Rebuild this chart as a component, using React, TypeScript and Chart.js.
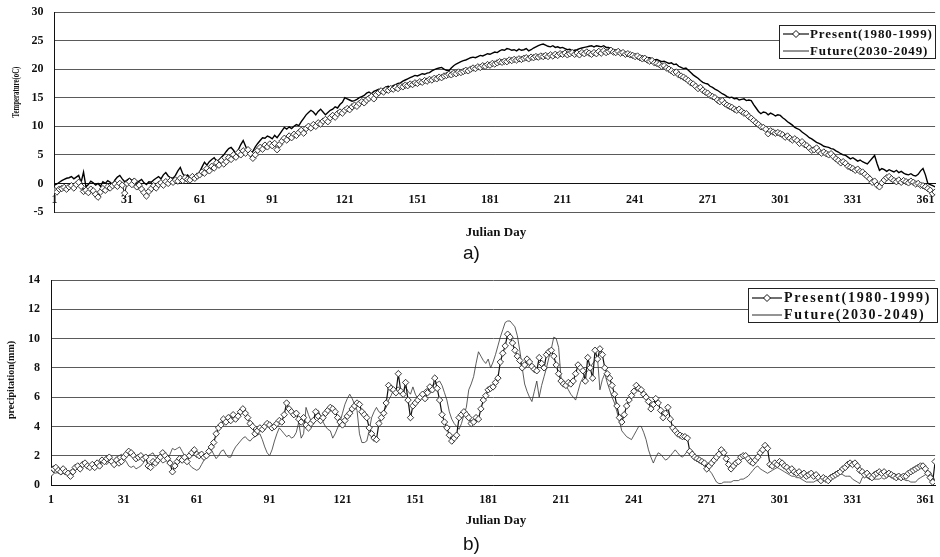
import React, { useEffect, useRef } from 'react';
import { Chart, registerables } from 'chart.js';

Chart.register(...registerables);

// ---------- DATA ----------
const xTickValues = [1, 31, 61, 91, 121, 151, 181, 211, 241, 271, 301, 331, 361];
const tempYTicks = [-5, 0, 5, 10, 15, 20, 25, 30];
const precYTicks = [0, 2, 4, 6, 8, 10, 12, 14];
const seriesLabels = ['Present(1980-1999)', 'Future(2030-2049)'];

// a) Temperature (oC), Julian day 1..365
const tempPresent = [
  -1.2, -1.5, -1.0, -0.9, -0.7, -1.0, -0.6, -0.4, -0.8, -0.2,
  0.2, -0.5, -1.4, -1.2, -1.6, -1.0, -1.3, -1.9, -2.4, -1.5,
  -0.9, -1.2, -0.6, -0.8, -0.4, -0.1, -0.5, 0.0, -0.3, -1.7,
  0.0, 0.3, -0.2, 0.4, -0.6, -0.3, -1.0, -1.6, -2.2, -1.4,
  -0.9, -0.4, -0.8, -0.2, 0.1, -0.3, 0.3, 0.0, 0.5, 0.2,
  0.6, 0.4, 0.9, 0.5, 1.0, 0.7, 0.6, 1.2, 0.9, 1.3,
  1.5, 2.0, 1.8, 2.6, 2.2, 3.0, 2.7, 3.6, 3.2, 4.0,
  3.4, 3.8, 4.5, 4.2, 5.0, 4.6, 5.4, 5.0, 5.7, 5.3,
  5.9, 5.2, 4.4, 5.0, 5.8, 6.3, 6.0, 6.7, 6.4, 6.9,
  6.6, 7.0, 5.9, 6.8, 7.4, 7.9, 7.6, 8.3, 8.0, 8.6,
  8.4, 8.9, 9.3, 8.8, 9.6, 10.0, 9.7, 10.3, 10.0, 10.6,
  10.4, 10.9, 11.2, 10.8, 11.5, 11.9, 11.6, 12.2, 12.5, 12.3,
  12.8, 13.1, 12.9, 13.4, 13.7, 13.5, 14.0, 14.3, 14.1, 14.6,
  14.9, 15.2, 14.8, 15.5, 15.9, 16.2, 16.0, 16.4, 16.3, 16.6,
  16.5, 16.8, 16.6, 17.0, 16.9, 17.2, 17.1, 17.4, 17.3, 17.6,
  17.5, 17.8, 17.7, 18.0, 17.9, 18.2, 18.1, 18.4, 18.3, 18.6,
  18.5, 18.8, 18.9, 19.1, 19.0, 19.3, 19.2, 19.5, 19.4, 19.6,
  19.8, 19.7, 20.0, 20.2, 20.1, 20.4, 20.3, 20.6, 20.5, 20.8,
  20.7, 21.0, 20.9, 21.1, 21.3, 21.2, 21.4, 21.3, 21.6, 21.5,
  21.7, 21.6, 21.8, 21.7, 21.9, 22.0, 21.8, 22.1, 22.0, 22.2,
  22.1, 22.3, 22.2, 22.4, 22.2, 22.5, 22.3, 22.6, 22.4, 22.7,
  22.6, 22.8, 22.5, 22.7, 22.9, 22.6, 22.8, 22.5, 22.9, 22.7,
  23.0, 22.8, 22.6, 22.9, 22.7, 23.1, 22.8, 23.2, 22.9, 23.1,
  23.3, 23.0, 22.9, 23.1, 22.8, 22.9, 22.6, 22.7, 22.5, 22.4,
  22.2, 22.3, 22.0, 21.8, 21.9, 21.6, 21.4, 21.5, 21.1, 21.0,
  20.8, 20.5, 20.6, 20.2, 20.0, 19.7, 19.4, 19.5, 19.0, 18.8,
  18.6, 18.3, 18.0, 17.6, 17.4, 17.0, 16.6, 16.8, 16.3, 16.0,
  15.8, 15.4, 15.2, 15.0, 14.6, 14.3, 14.5, 14.0, 13.7, 13.5,
  13.3, 13.0, 12.8, 13.0, 12.6, 12.3, 12.2, 11.7, 11.4, 11.0,
  10.6, 10.3, 9.9, 9.8, 9.5, 8.7, 9.2, 9.0, 8.8, 8.9,
  8.7, 8.5, 8.1, 8.3, 7.9, 7.6, 7.8, 7.5, 7.0, 7.3,
  6.8, 6.6, 6.2, 5.8, 5.9, 6.2, 5.6, 5.3, 5.5, 5.2,
  5.0, 5.2, 4.7, 4.3, 4.0, 3.6, 3.8, 3.5, 3.0, 2.8,
  2.6, 2.3, 2.5, 2.1, 2.0, 1.6, 1.2, 0.8, 0.2, 0.4,
  -0.3, -0.6, 0.1, 0.6, 1.0, 1.2, 0.8, 0.5, 0.3, 0.6,
  0.2, 0.5, 0.3, 0.1, 0.4, 0.2, -0.1, 0.0, -0.3, -0.4,
  -0.6, -0.9, -1.2, -1.8, -1.5,
];

const tempFuture = [
  -0.3, -0.1, 0.2, 0.5, 0.7, 0.9, 1.0, 1.2, 0.8, 1.1,
  1.4, 0.2, 2.0, -0.6, -0.2, 0.4, 0.1, -0.3, 0.0, -0.5,
  0.3, 0.0, 0.5, 0.2, -0.2, 0.6, 1.1, 1.4, 0.8, 0.3,
  0.6, 0.9, 0.5, 0.8, 0.2, 0.4, 0.7, 0.1, -0.2, 0.3,
  0.2, 0.6, 0.9, 1.2, 0.8, 1.5, 1.9, 1.3, 1.0, 0.9,
  1.4, 2.2, 2.8, 1.7, 1.2, 1.5, 1.0, 1.3, 0.8, 1.1,
  2.0, 2.9, 3.7, 3.2, 3.8, 4.2, 4.5, 3.9, 4.1, 4.6,
  5.0, 5.6, 6.1, 6.3, 5.8, 5.2, 5.9, 6.8, 7.5, 6.5,
  5.5, 4.8, 5.6, 6.4, 7.0, 7.5, 8.0, 7.9, 8.3, 8.1,
  7.8, 8.4, 8.0, 8.6, 9.2, 9.8, 9.5, 9.9, 9.6, 10.0,
  10.3, 10.1, 10.8, 11.4, 12.0, 12.4, 12.8, 12.5, 12.0, 12.6,
  13.0, 12.5, 12.0, 12.4, 12.8, 13.0, 13.4, 13.2, 13.8, 14.2,
  15.0, 14.8, 14.6, 14.4, 14.5, 14.7, 15.0, 15.2, 15.4, 15.8,
  16.0, 15.7, 16.1, 16.3, 16.5, 16.4, 16.6, 16.9, 17.0, 16.8,
  17.1, 17.3, 17.5, 17.6, 17.9, 18.1, 18.3, 18.5, 18.7, 18.9,
  18.8, 19.0, 19.2, 19.1, 19.3, 19.4, 19.7, 19.9, 20.1, 20.2,
  20.3, 20.0, 19.8, 19.7, 20.2, 20.6, 20.9, 21.1, 21.3, 21.5,
  21.6, 21.8, 22.0, 22.1, 22.0, 22.2, 22.4, 22.3, 22.5, 22.7,
  22.6, 22.8, 23.0, 22.9, 23.2, 23.4, 23.3, 23.6, 23.5, 23.3,
  23.4, 23.2, 23.5, 23.3, 23.4, 23.6, 23.2, 23.4, 23.7, 23.9,
  24.1, 24.3, 24.4, 24.2, 24.0, 23.9, 24.1, 23.8, 23.9, 23.7,
  23.8, 23.6, 23.4, 23.5, 23.2, 23.3, 23.4, 23.6, 23.7, 23.8,
  23.9, 24.0, 24.1, 23.9, 24.1, 24.0, 23.9, 24.1, 23.8, 23.8,
  23.6, 23.4, 23.3, 23.4, 23.1, 23.0, 22.8, 22.9, 22.7, 22.5,
  22.6, 22.4, 22.2, 22.3, 22.1, 22.0, 22.0, 21.8, 21.6, 21.7,
  21.5, 21.3, 21.4, 21.2, 21.0, 21.1, 20.8, 20.9, 20.5, 20.3,
  20.1, 20.2, 19.8, 19.4, 19.0, 18.7, 18.4, 18.0, 17.7, 17.5,
  17.4, 17.0, 16.8, 16.5, 16.3, 16.0, 15.7, 15.5, 15.2, 15.0,
  15.1, 14.8, 14.9, 14.6, 14.7, 14.8, 14.5, 14.6, 14.5, 13.8,
  13.2, 12.6, 12.2, 12.5, 12.4, 12.0, 12.3, 12.1, 11.8, 12.0,
  11.9, 11.5, 11.2, 10.8, 10.5, 10.2, 9.8, 9.6, 9.4, 9.0,
  8.7, 8.4, 8.0, 7.8, 7.5, 7.2, 7.0, 6.8, 6.5, 6.4,
  6.3, 6.1, 6.0, 5.7, 5.5, 5.2, 5.0, 4.9, 4.6, 4.3,
  4.5, 4.2, 3.9, 4.1, 3.8, 3.6, 3.4, 3.9, 4.4, 4.9,
  3.5, 2.3, 2.6, 2.4, 2.1, 2.4, 2.2, 2.0, 2.3, 1.9,
  2.1, 1.8, 1.6, 1.5, 1.7, 1.4, 1.3, 1.6, 2.2, 2.6,
  1.5, 0.0, -0.2, -0.4, -0.6,
];

// b) Precipitation (mm), Julian day 1..365
const precPresent = [
  0.8, 1.1, 1.2, 1.0, 0.9, 1.1, 0.9, 0.8, 0.6, 0.9,
  1.2, 1.3, 1.1, 1.4, 1.5, 1.3, 1.2, 1.4, 1.2, 1.5,
  1.3, 1.7, 1.6, 1.8, 1.9, 1.6, 1.4, 1.7, 1.5, 1.6,
  1.9, 2.1, 2.3, 2.2, 2.0, 1.8, 1.9, 2.0, 1.8, 1.9,
  1.3, 1.2, 1.6, 1.5, 1.7, 1.9, 2.2, 2.0, 1.8, 1.5,
  0.9, 1.3, 1.6, 1.8, 1.7, 1.9, 1.6, 2.0, 2.2, 2.4,
  2.1, 2.0, 2.1, 1.9, 2.0, 2.3, 2.6, 2.9, 3.5, 3.9,
  4.1, 4.5, 4.3, 4.6, 4.4, 4.8, 4.5, 4.7, 5.0, 5.2,
  4.9, 4.6, 4.2, 4.0, 3.5, 3.7, 3.9, 3.8, 4.0, 4.2,
  4.1, 3.9, 4.0, 4.2, 4.4, 4.3, 4.8, 5.6, 5.2, 5.0,
  4.8, 4.9, 4.5, 4.3, 4.6, 4.1, 3.9, 4.2, 4.4, 5.0,
  4.7, 4.4, 4.6, 4.9, 5.1, 5.3, 5.2, 5.0, 4.6, 4.3,
  4.1, 4.4, 4.7, 4.9, 5.2, 5.4, 5.6, 5.5, 5.0, 4.8,
  4.6, 3.9, 3.5, 3.2, 3.1, 4.2, 4.6, 4.9, 5.6, 6.8,
  6.6, 6.5, 6.3, 7.6, 6.4, 6.2, 7.0, 5.8, 4.6, 5.4,
  5.6, 5.8, 6.0, 6.2, 5.9, 6.3, 6.7, 6.5, 7.3, 6.6,
  5.8, 4.8, 4.3, 3.9, 3.4, 3.0, 3.2, 3.4, 4.6, 4.8,
  5.0, 4.8, 4.6, 4.2, 4.3, 4.6, 4.5, 5.2, 5.8, 6.1,
  6.5, 6.6, 6.7, 7.0, 7.3, 8.4, 9.0, 9.5, 10.3, 10.1,
  9.7, 9.2, 8.8, 8.5, 8.0, 8.2, 8.6, 8.4, 8.1, 7.9,
  7.8, 8.7, 8.3, 8.0, 8.9, 9.1, 9.2, 8.8, 8.2, 7.6,
  7.1, 6.9, 6.8, 7.0, 6.9, 7.1, 7.6, 8.2, 8.0, 7.8,
  7.1, 8.7, 8.0, 7.3, 9.2, 8.6, 9.3, 8.9, 8.0, 7.6,
  7.3, 6.8, 6.2, 5.4, 4.6, 4.3, 4.8, 5.4, 5.8, 6.1,
  6.4, 6.8, 6.6, 6.5, 6.2, 6.0, 5.7, 5.2, 5.5, 5.9,
  5.6, 5.1, 4.6, 4.9, 5.3, 4.5, 3.9, 3.7, 3.5, 3.4,
  3.3, 3.3, 3.2, 2.3, 2.1, 1.9, 1.8, 1.7, 1.6, 1.5,
  1.1, 1.3, 1.5, 1.7, 1.9, 2.1, 2.4, 2.2, 1.8, 1.4,
  1.1, 1.3, 1.5, 1.6, 1.9, 2.0, 2.0, 1.8, 1.6, 1.5,
  1.7, 1.9, 2.2, 2.4, 2.7, 2.5, 1.4, 1.3, 1.5, 1.4,
  1.6, 1.5, 1.3, 1.2, 1.0, 1.1, 0.9, 0.8, 0.9, 0.7,
  0.8, 0.6, 0.7, 0.8, 0.6, 0.7, 0.5, 0.3, 0.5, 0.4,
  0.3, 0.5, 0.6, 0.7, 0.8, 0.9, 1.1, 1.2, 1.4, 1.5,
  1.4, 1.5, 1.3, 1.0, 0.9, 0.7, 0.8, 0.6, 0.5, 0.7,
  0.8, 0.9, 0.8, 0.9, 0.7, 0.8, 0.7, 0.6, 0.5, 0.6,
  0.5, 0.6, 0.6, 0.8, 0.9, 1.0, 1.1, 1.2, 1.3, 1.3,
  1.1, 0.8, 0.5, 0.2, 1.6,
];

const precFuture = [
  1.0, 0.9, 0.8, 0.9, 0.7, 0.8, 0.7, 0.9, 1.0, 1.1,
  1.0, 1.2, 1.1, 1.3, 1.4, 1.2, 1.3, 1.5, 1.4, 1.6,
  1.5, 1.7, 1.5, 1.4, 1.6, 1.5, 1.7, 1.9, 2.0, 2.1,
  1.8, 1.6, 1.3, 1.2, 1.3, 1.1, 1.2, 1.3, 1.5, 1.8,
  2.0, 2.1, 2.2, 1.9, 1.8, 1.7, 1.5, 1.6, 1.7, 2.1,
  2.5, 2.4, 2.5, 2.6, 2.3, 2.0, 1.7, 1.4, 1.2, 1.1,
  1.0, 1.1, 1.4, 1.7, 2.0, 2.3, 2.4, 2.1, 1.8, 2.0,
  2.3, 2.4, 2.1, 1.9, 1.9, 2.3, 2.6, 2.8, 3.0, 3.2,
  3.3, 3.1, 3.0, 3.2, 3.3, 3.4, 3.5, 3.1, 2.6, 2.2,
  2.0, 2.4, 3.0, 3.5, 3.9, 3.7, 3.5, 3.3, 3.4, 3.2,
  3.3, 3.6, 4.3, 3.2, 3.5, 5.3, 4.8, 4.4, 4.3, 5.0,
  5.1, 4.7, 4.3, 4.0, 3.8, 3.7, 3.2, 3.5, 3.9, 4.3,
  4.9, 5.5, 5.9, 6.2, 5.9, 5.5, 5.1, 3.5, 2.9, 2.9,
  3.0, 3.7, 4.6, 5.0, 5.3, 5.0, 4.9, 5.1, 5.3, 5.8,
  6.1, 6.5, 6.6, 6.7, 6.5, 6.3, 6.7, 6.4, 6.2, 6.7,
  6.2, 5.9, 5.8, 6.3, 6.5, 6.6, 6.7, 6.8, 6.9, 7.0,
  7.1, 6.8, 6.3, 5.8, 5.0, 4.5, 4.2, 4.0, 3.8, 4.2,
  4.8, 5.3, 6.5, 6.9, 7.4, 8.3, 9.1, 8.8, 8.5, 8.3,
  8.6, 8.0, 8.4, 8.9, 9.5, 10.1, 10.6, 11.1, 11.2, 11.2,
  11.0, 10.8, 10.2, 9.2, 8.0, 6.9, 6.4, 6.0, 5.7, 6.4,
  7.1, 6.0, 6.8, 7.4, 8.0, 8.7, 9.3, 10.1, 10.0, 9.4,
  7.3, 7.0, 6.8, 6.5, 6.2, 6.0, 5.8, 6.4, 7.0, 7.3,
  7.6, 7.8, 8.0, 8.3, 8.5, 8.7, 6.5, 7.2, 7.6, 7.0,
  6.5, 6.0, 5.6, 5.0, 4.4, 3.7, 3.5, 3.3, 3.2, 3.1,
  3.4, 3.7, 4.0, 4.0, 3.6, 3.1, 2.4, 1.9, 1.5, 1.9,
  2.2, 2.1, 1.9, 1.7, 1.8, 2.0, 2.2, 2.4, 2.2, 2.0,
  1.9, 2.1, 2.3, 2.4, 2.2, 1.9, 1.7, 1.6, 1.5, 1.3,
  1.1, 1.0, 0.8, 0.5, 0.2, 0.1, 0.1, 0.2, 0.2, 0.2,
  0.2, 0.3, 0.3, 0.3, 0.4, 0.4, 0.5, 0.6, 0.8, 1.0,
  1.2, 1.3, 1.1, 1.0, 0.9, 0.8, 0.9, 1.0, 1.1, 1.2,
  1.1, 1.0, 0.9, 0.8, 0.7, 0.6, 0.6, 0.5, 0.5, 0.4,
  0.3, 0.2, 0.2, 0.2, 0.2, 0.3, 0.3, 0.3, 0.4, 0.4,
  0.5, 0.6, 0.7, 0.8, 0.9, 0.8, 0.7, 0.6, 0.6, 0.6,
  0.4, 0.3, 0.2, 0.1, 0.5, 0.6, 0.5, 0.4, 0.4, 0.4,
  0.4, 0.4, 0.5, 0.4, 0.5, 0.6, 0.7, 0.8, 0.7, 0.6,
  0.5, 0.4, 0.3, 0.3, 0.2, 0.2, 0.2, 0.4, 0.5, 0.6,
  0.7, 0.8, 0.9, 0.6, 0.3,
];

// ---------- STYLE ----------
const SERIF = '"Liberation Serif", "Times New Roman", serif';
const SANS = '"Liberation Sans", Arial, sans-serif';
const INK = '#111';
const GRID = '#5a5a5a';

type PanelSpec = {
  present: number[];
  future: number[];
  yMin: number;
  yMax: number;
  yTicks: number[];
  canvasTop: number;
  canvasHeight: number;
  areaTop: number;
  areaBottom: number;
  areaLeft: number;
  futureWidth: number;
  futureColor: string;
  presentWidth: number;
  tickPad: number;
};

function toPoints(values: number[]) {
  return values.map((v, i) => ({ x: i + 1, y: v }));
}

function Panel({ spec }: { spec: PanelSpec }) {
  const ref = useRef<HTMLCanvasElement | null>(null);
  useEffect(() => {
    if (!ref.current) return;
    const tickFont = { family: SERIF, weight: 'bold' as const, size: 12 };
    const chart = new Chart(ref.current, {
      type: 'line',
      data: {
        datasets: [
          {
            label: seriesLabels[0],
            data: toPoints(spec.present),
            borderColor: INK,
            borderWidth: spec.presentWidth,
            pointStyle: 'rectRot',
            pointRadius: 3.2,
            pointBackgroundColor: '#fff',
            pointBorderColor: '#222',
            pointBorderWidth: 0.9,
            tension: 0,
          },
          {
            label: seriesLabels[1],
            data: toPoints(spec.future),
            borderColor: spec.futureColor,
            borderWidth: spec.futureWidth,
            pointRadius: 0,
            tension: 0,
          },
        ],
      },
      options: {
        animation: false,
        responsive: false,
        maintainAspectRatio: false,
        events: [],
        layout: {
          padding: {
            top: spec.areaTop,
            bottom: spec.canvasHeight - spec.areaBottom,
            left: 0,
            right: 0,
          },
        },
        plugins: { legend: { display: false }, tooltip: { enabled: false } },
        scales: {
          x: {
            type: 'linear',
            min: 1,
            max: 365,
            position: { y: 0 } as any,
            afterBuildTicks: (s: any) => {
              s.ticks = xTickValues.map((v) => ({ value: v }));
            },
            afterFit: (s: any) => {
              s.height = 0;
              s.paddingLeft = 0;
              s.paddingRight = 0;
            },
            ticks: {
              autoSkip: false,
              maxRotation: 0,
              minRotation: 0,
              font: tickFont,
              color: INK,
              padding: spec.tickPad,
              callback: (v: any) => String(v),
            },
            grid: { display: true, drawOnChartArea: false, drawTicks: false },
            border: { display: true, color: INK, width: 1 },
          },
          y: {
            type: 'linear',
            min: spec.yMin,
            max: spec.yMax,
            afterBuildTicks: (s: any) => {
              s.ticks = spec.yTicks.map((v) => ({ value: v }));
            },
            afterFit: (s: any) => {
              s.width = spec.areaLeft;
              s.paddingTop = 0;
              s.paddingBottom = 0;
            },
            ticks: { font: tickFont, color: INK, padding: 11 },
            grid: { color: GRID, lineWidth: 1, drawTicks: false },
            border: { display: true, color: INK, width: 1 },
          },
        },
      },
    });
    return () => chart.destroy();
  }, [spec]);
  return (
    <canvas
      ref={ref}
      width={940}
      height={spec.canvasHeight}
      style={{ position: 'absolute', left: 0, top: spec.canvasTop, width: 940, height: spec.canvasHeight }}
    />
  );
}

function Marker({ w, withDiamond }: { w: number; withDiamond: boolean }) {
  const c = w / 2;
  return (
    <svg width={w} height={10} style={{ display: 'block', flex: 'none' }}>
      <line x1={0} y1={5} x2={w} y2={5} stroke={INK} strokeWidth={withDiamond ? 1.2 : 0.9} />
      {withDiamond && (
        <polygon points={`${c},1.5 ${c + 3.5},5 ${c},8.5 ${c - 3.5},5`} fill="#fff" stroke={INK} strokeWidth={1} />
      )}
    </svg>
  );
}

function LegendBox(props: {
  left: number; top: number; width: number; height: number;
  rows: number[]; fontSize: number; spacing: number; sampleW: number; gap: number;
}) {
  const { left, top, width, height, rows, fontSize, spacing, sampleW, gap } = props;
  return (
    <div
      style={{
        position: 'absolute', left, top, width, height, boxSizing: 'border-box',
        border: '1px solid #222', background: '#fff',
      }}
    >
      {seriesLabels.map((lab, i) => (
        <div
          key={lab}
          style={{
            position: 'absolute', left: 3, top: rows[i] - 9, height: 18,
            display: 'flex', alignItems: 'center', whiteSpace: 'nowrap',
          }}
        >
          <Marker w={sampleW} withDiamond={i === 0} />
          <span
            style={{
              marginLeft: gap, fontFamily: SERIF, fontWeight: 'bold', fontSize,
              letterSpacing: spacing, color: INK, lineHeight: '18px',
            }}
          >
            {lab}
          </span>
        </div>
      ))}
    </div>
  );
}

const panelA: PanelSpec = {
  present: tempPresent, future: tempFuture, yMin: -5, yMax: 30, yTicks: tempYTicks,
  canvasTop: 0, canvasHeight: 230, areaTop: 12, areaBottom: 212, areaLeft: 54.5,
  futureWidth: 1.4, futureColor: '#000', presentWidth: 1, tickPad: 9,
};
const panelB: PanelSpec = {
  present: precPresent, future: precFuture, yMin: 0, yMax: 14, yTicks: precYTicks,
  canvasTop: 264, canvasHeight: 250, areaTop: 16, areaBottom: 221, areaLeft: 51,
  futureWidth: 0.8, futureColor: '#333', presentWidth: 1.2, tickPad: 8,
};

const textStyle = (extra: React.CSSProperties): React.CSSProperties => ({
  position: 'absolute', fontFamily: SERIF, fontWeight: 'bold', color: INK, whiteSpace: 'nowrap', ...extra,
});

export default function App() {
  return (
    <div style={{ position: 'absolute', left: 0, top: 0, width: 940, height: 557, background: '#fff', overflow: 'hidden' }}>
      <Panel spec={panelA} />
      <Panel spec={panelB} />

      {/* y-axis titles */}
      <div style={textStyle({ left: 15, top: 92, fontSize: 11, lineHeight: '12px', transform: 'translate(-50%, -50%) rotate(-90deg) scaleX(0.62)' })}>
        Temperature(oC)
      </div>
      <div style={textStyle({ left: 10, top: 380, fontSize: 10, lineHeight: '11px', transform: 'translate(-50%, -50%) rotate(-90deg)' })}>
        precipitation(mm)
      </div>

      {/* x-axis titles */}
      <div style={textStyle({ left: 496, top: 232, fontSize: 13, transform: 'translate(-50%, -50%)' })}>Julian Day</div>
      <div style={textStyle({ left: 496, top: 520, fontSize: 13, transform: 'translate(-50%, -50%)' })}>Julian Day</div>

      {/* panel labels */}
      <div style={{ position: 'absolute', left: 463, top: 242, fontFamily: SANS, fontSize: 19, color: INK, lineHeight: '22px' }}>a)</div>
      <div style={{ position: 'absolute', left: 463, top: 533, fontFamily: SANS, fontSize: 19, color: INK, lineHeight: '22px' }}>b)</div>

      {/* legends */}
      <LegendBox left={779} top={25} width={157} height={34} rows={[8, 25]} fontSize={13} spacing={0.9} sampleW={26} gap={1} />
      <LegendBox left={748} top={288} width={190} height={35} rows={[9, 26]} fontSize={14} spacing={1.8} sampleW={30} gap={2} />
    </div>
  );
}
